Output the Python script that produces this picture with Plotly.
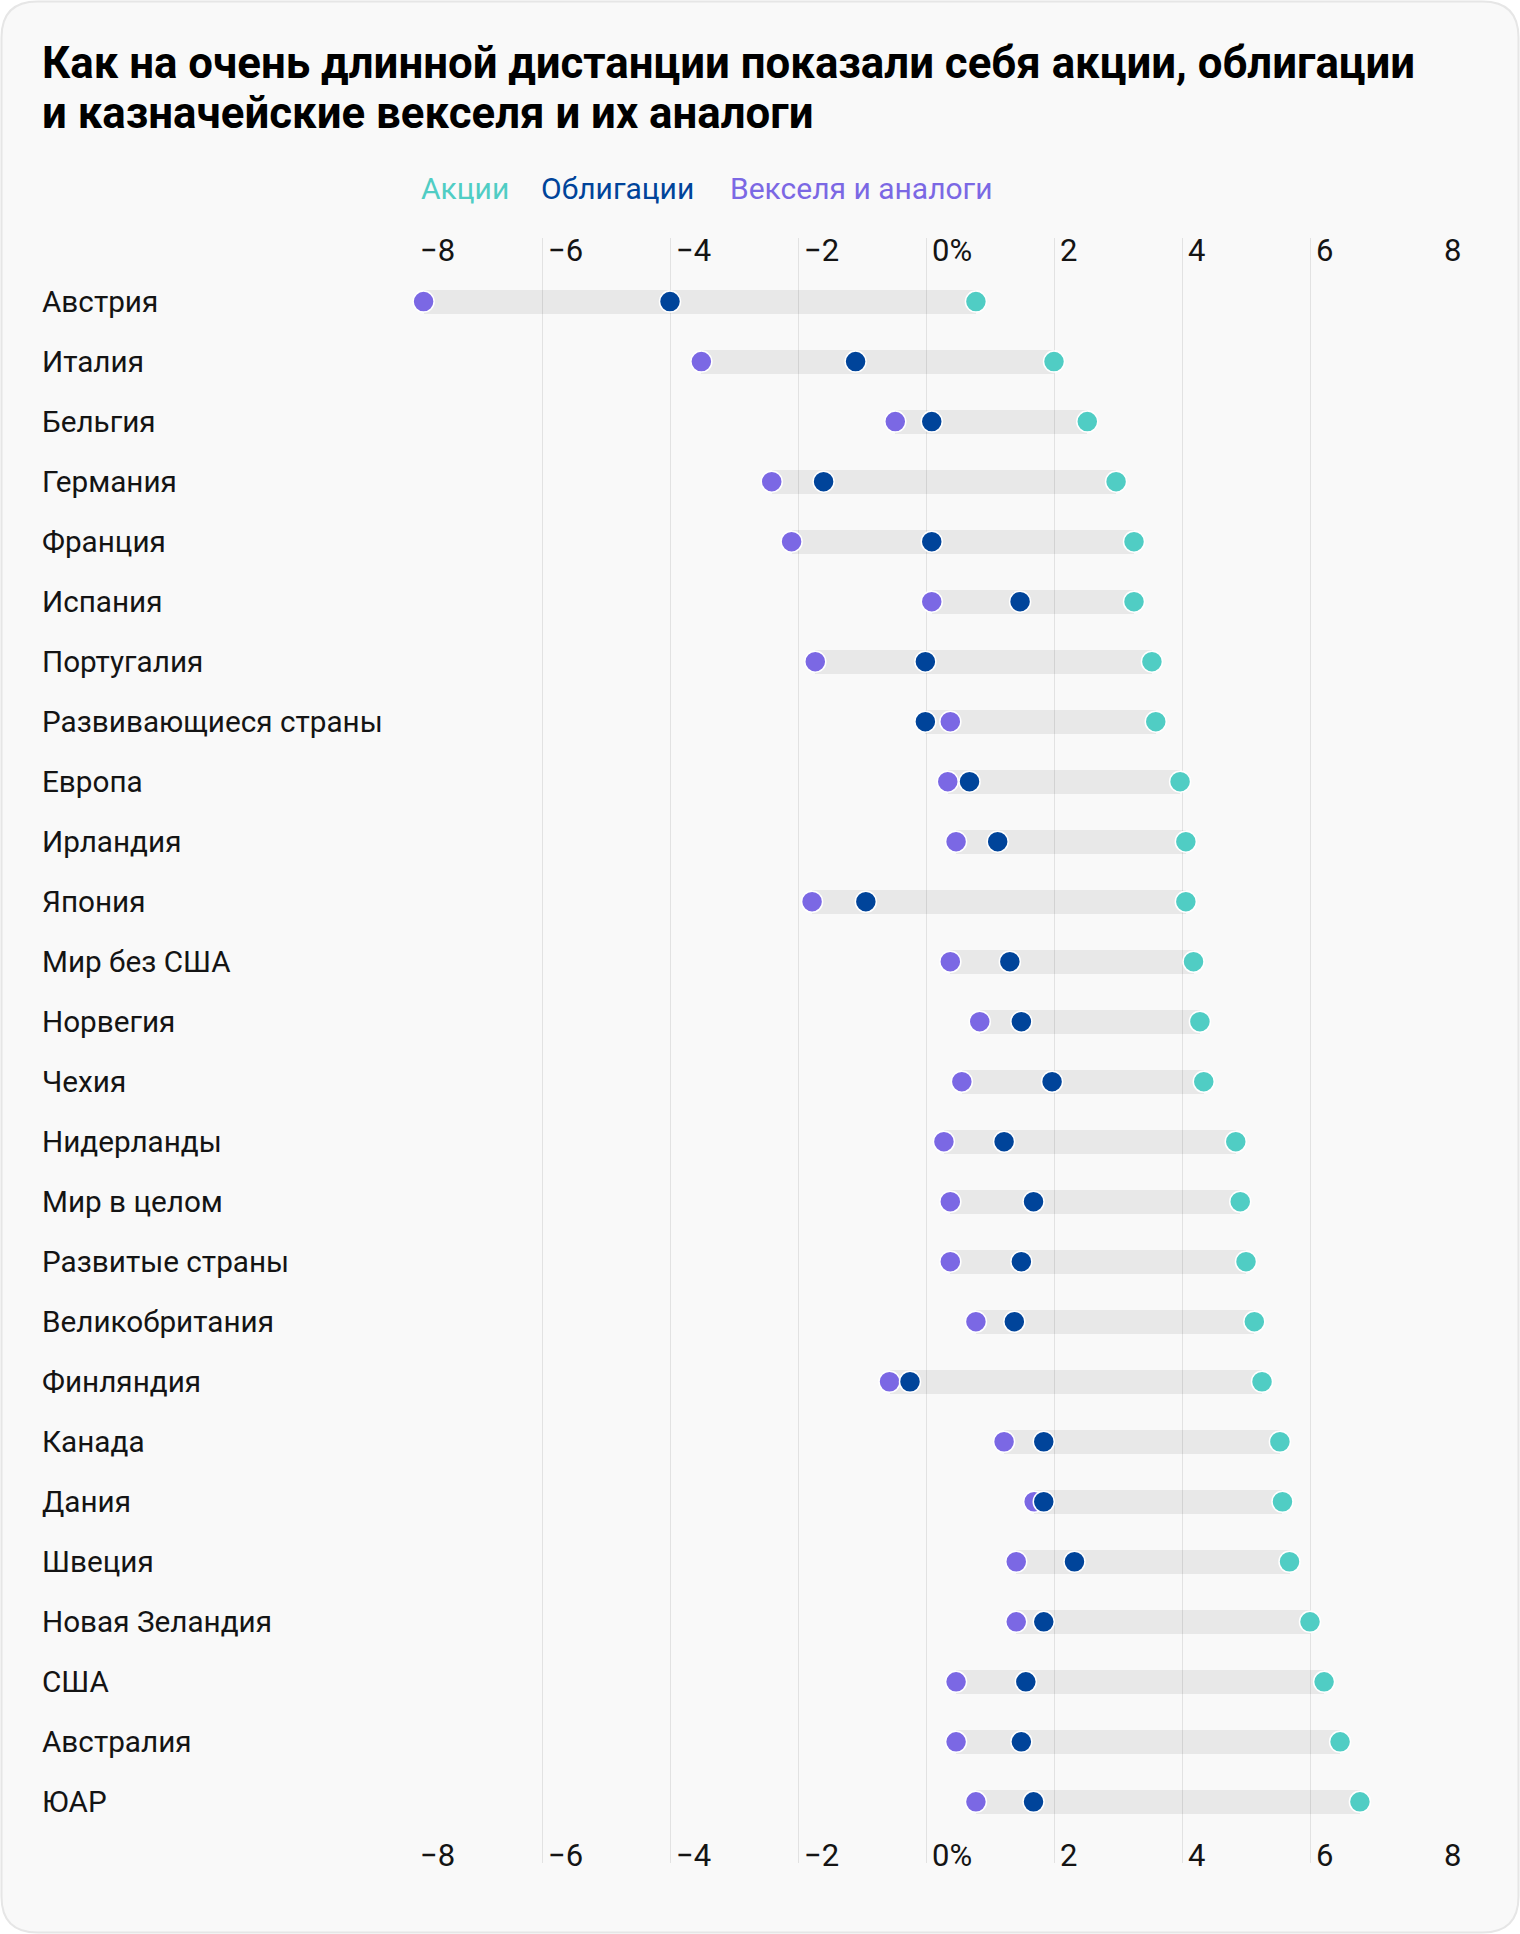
import numpy as np
import plotly.graph_objects as go

# ---------------- data ----------------
countries = ["Австрия", "Италия", "Бельгия", "Германия", "Франция", "Испания",
             "Португалия", "Развивающиеся страны", "Европа", "Ирландия", "Япония",
             "Мир без США", "Норвегия", "Чехия", "Нидерланды", "Мир в целом",
             "Развитые страны", "Великобритания", "Финляндия", "Канада", "Дания",
             "Швеция", "Новая Зеландия", "США", "Австралия", "ЮАР"]

stocks = [0.78, 2.0, 2.52, 2.97, 3.25, 3.25, 3.53, 3.59, 3.97, 4.06, 4.06, 4.18, 4.28,
          4.34, 4.84, 4.91, 5.0, 5.13, 5.25, 5.53, 5.57, 5.68, 6.0, 6.22, 6.47, 6.78]
bonds = [-4.0, -1.1, 0.09, -1.6, 0.09, 1.47, -0.01, -0.01, 0.68, 1.12, -0.94, 1.31, 1.49,
         1.97, 1.22, 1.68, 1.49, 1.38, -0.25, 1.84, 1.84, 2.32, 1.84, 1.56, 1.49, 1.68]
bills = [-7.85, -3.51, -0.48, -2.41, -2.1, 0.09, -1.73, 0.38, 0.34, 0.47, -1.78, 0.38, 0.84,
         0.56, 0.28, 0.38, 0.38, 0.78, -0.57, 1.22, 1.69, 1.41, 1.41, 0.47, 0.47, 0.78]

series_names = ["Акции", "Облигации", "Векселя и аналоги"]
tick_vals = [-8, -6, -4, -2, 0, 2, 4, 6, 8]
tick_text = ["−8", "−6", "−4", "−2", "0%", "2", "4", "6", "8"]

title_lines = ["Как на очень длинной дистанции показали себя акции, облигации",
               "и казначейские векселя и их аналоги"]

# ---------------- styles ----------------
W, H = 1520, 1934
L, R, T, B = 414, 82, 238, 71
PW, PH = W - L - R, H - T - B
FONT = "Roboto, 'Noto Sans', sans-serif"
C_STOCK, C_BOND, C_BILL = "#50cdc4", "#00449a", "#7b68e4"
TXT = "#141414"

lo = np.minimum(np.minimum(stocks, bonds), bills)
hi = np.maximum(np.maximum(stocks, bonds), bills)

fig = go.Figure()

fig.add_trace(go.Bar(
    y=countries, x=hi - lo, base=lo, orientation="h", width=0.4,
    marker=dict(color="rgba(0,0,0,0.065)", line=dict(width=0)),
    hoverinfo="skip", showlegend=False, xaxis="x", yaxis="y",
))

for name, vals, col in [(series_names[2], bills, C_BILL),
                        (series_names[1], bonds, C_BOND),
                        (series_names[0], stocks, C_STOCK)]:
    fig.add_trace(go.Scatter(
        y=countries, x=vals, mode="markers", name=name,
        marker=dict(size=21, color=col, line=dict(color="white", width=1.5)),
        cliponaxis=False, showlegend=False, xaxis="x2", yaxis="y",
    ))

axis_common = dict(
    range=[-8, 8], tickmode="array", tickvals=tick_vals, ticktext=tick_text,
    ticks="", showline=False, zeroline=False,
    ticklabelposition="inside right", ticklabeloverflow="allow",
    tickfont=dict(family=FONT, size=31, color=TXT),
    ticklabelshift=6,
)

fig.update_layout(
    width=W, height=H,
    margin=dict(l=L, r=R, t=T, b=B, pad=0),
    paper_bgcolor="#ffffff",
    plot_bgcolor="rgba(0,0,0,0)",
    bargap=0,
    xaxis=dict(**axis_common, side="bottom", showgrid=True,
               gridcolor="#e2e2e2", gridwidth=1.3, ticklabelstandoff=-15),
    xaxis2=dict(**axis_common, side="top", overlaying="x", matches="x",
                anchor="y", showgrid=False, ticklabelstandoff=-5),
    yaxis=dict(type="category", categoryarray=countries, range=[26.02, -1.06],
               showticklabels=False, showgrid=False, zeroline=False, ticks=""),
    font=dict(family=FONT, color=TXT),
    showlegend=False,
)

# card background with rounded corners (paper coordinates)
def px(xp):
    return (xp - L) / PW

def py(yp):
    return (H - B - yp) / PH

x0, x1, y0, y1, r = 1.5, 1518.5, 1.5, 1932.5, 36
path = (f"M {px(x0 + r)},{py(y0)} L {px(x1 - r)},{py(y0)} "
        f"Q {px(x1)},{py(y0)} {px(x1)},{py(y0 + r)} "
        f"L {px(x1)},{py(y1 - r)} Q {px(x1)},{py(y1)} {px(x1 - r)},{py(y1)} "
        f"L {px(x0 + r)},{py(y1)} Q {px(x0)},{py(y1)} {px(x0)},{py(y1 - r)} "
        f"L {px(x0)},{py(y0 + r)} Q {px(x0)},{py(y0)} {px(x0 + r)},{py(y0)} Z")
fig.add_shape(type="path", path=path, xref="paper", yref="paper", layer="below",
              fillcolor="#f9f9f9", line=dict(color="#e6e6e6", width=2))

annotations = []
# title (two lines)
for line, ypos in zip(title_lines, [63, 113]):
    annotations.append(dict(
        text=f"<b>{line}</b>", xref="paper", yref="paper",
        x=px(40), y=py(ypos), xanchor="left", yanchor="middle", align="left",
        showarrow=False, font=dict(family=FONT, size=43.8, color="#000000"),
    ))
# legend
for name, col, xpos in zip(series_names, [C_STOCK, C_BOND, C_BILL], [419, 539, 728]):
    annotations.append(dict(
        text=name, xref="paper", yref="paper", x=px(xpos), y=py(189),
        xanchor="left", yanchor="middle", showarrow=False,
        font=dict(family=FONT, size=30, color=col),
    ))
# category labels
for c in countries:
    annotations.append(dict(
        text=c, xref="paper", yref="y", x=px(40), y=c,
        xanchor="left", yanchor="middle", showarrow=False,
        font=dict(family=FONT, size=29.7, color=TXT),
    ))
fig.update_layout(annotations=annotations)

fig.write_html("out.html", config={"displayModeBar": False},
               post_script="document.body.style.margin='0';")
